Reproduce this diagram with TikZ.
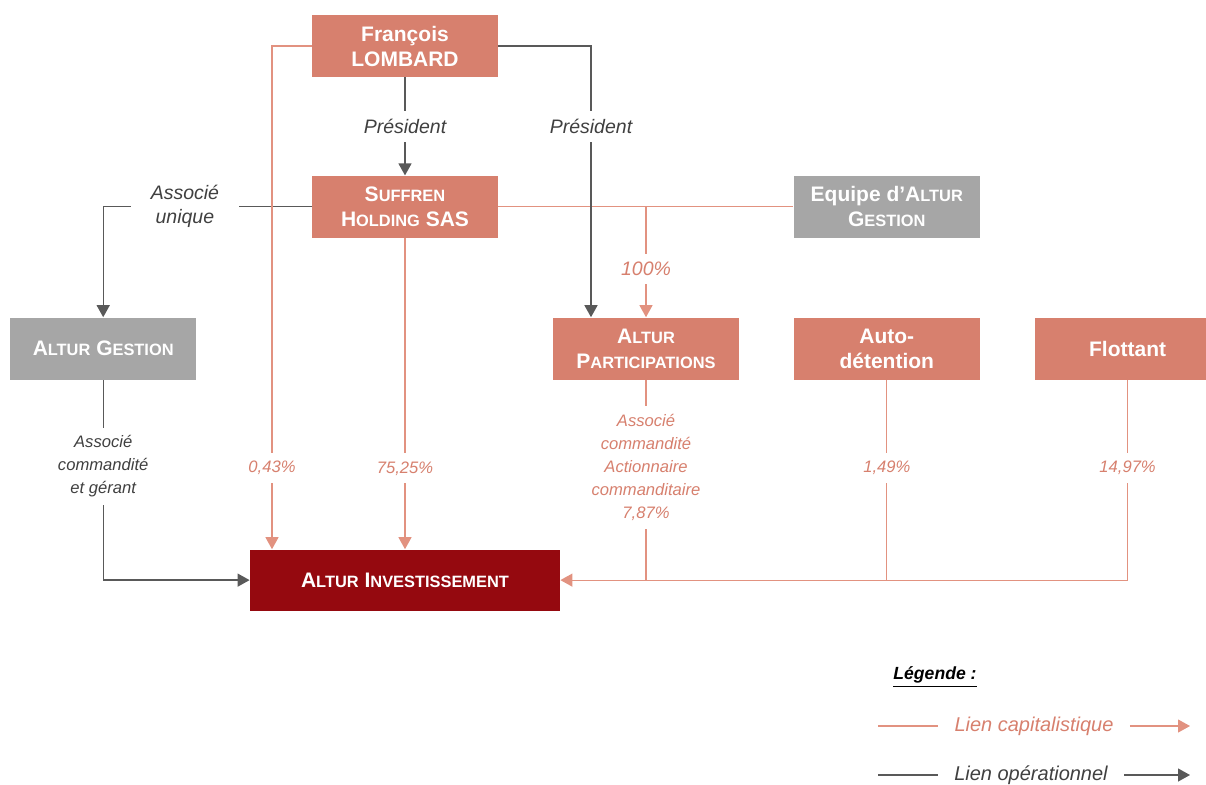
\documentclass[tikz,border=0pt]{standalone}
\usepackage{fontspec}
\setmainfont{Liberation Sans}
\usepackage{xcolor}
\usetikzlibrary{positioning,arrows.meta,calc}

\definecolor{saumon}{RGB}{215,128,110}
\definecolor{saumonline}{RGB}{226,146,128}
\definecolor{grisbox}{RGB}{166,166,166}
\definecolor{bordeaux}{RGB}{149,9,15}
\definecolor{grisline}{RGB}{89,89,89}
\definecolor{gristext}{RGB}{64,64,64}

% fake small caps: first letter full size, rest smaller
\newcommand{\fsc}[2]{#1{\fontsize{8.2pt}{10}\selectfont #2}}

\tikzset{
    >={Triangle[length=6pt,width=6.5pt]},
    entite/.style={
        rectangle,
        fill=saumon,
        text=white,
        font={\fontsize{10.5pt}{12.5}\selectfont\bfseries},
        minimum width=93pt,
        minimum height=31pt,
        inner sep=0pt,
        align=center
    },
    externe/.style={entite, fill=grisbox},
    cible/.style={entite, fill=bordeaux, minimum width=155pt, minimum height=30.5pt},
    caplink/.style={draw=saumonline, line width=0.55pt},
    oplink/.style={draw=grisline, line width=0.65pt},
    lbl/.style={
        fill=white,
        inner xsep=3pt,
        inner ysep=4pt,
        align=center,
        font={\fontsize{9.75pt}{12}\selectfont\itshape}
    },
    lowlbl/.style={lbl, font={\fontsize{8.3pt}{11.5}\selectfont\itshape}},
    oplbl/.style={lbl, text=gristext},
    oplow/.style={lowlbl, text=gristext},
    caplbl/.style={lbl, text=saumon},
    caplow/.style={lowlbl, text=saumon},
    legtext/.style={inner xsep=8pt, font={\fontsize{10pt}{12}\selectfont\itshape}},
}

\begin{document}
\begin{tikzpicture}[x=0.5pt,y=-0.5pt]
    \useasboundingbox (0,0) rectangle (1206,784);

    % entities
    \node[entite] (lombard) at (405,46) {François\\LOMBARD};
    \node[entite, below=49pt of lombard] (suffren) {\fsc{S}{UFFREN}\\\fsc{H}{OLDING} SAS};
    \node[externe, right=147.5pt of suffren] (equipe) {Equipe d’\fsc{A}{LTUR}\\\fsc{G}{ESTION}};
    \node[entite, below=39.5pt of equipe] (autodet) {Auto-\\détention};
    \node[entite, left=27pt of autodet] (partic) {\fsc{A}{LTUR}\\\fsc{P}{ARTICIPATIONS}};
    \node[entite, right=27pt of autodet] (flottant) {Flottant};
    \node[externe, left=178pt of partic] (gestion) {\fsc{A}{LTUR} \fsc{G}{ESTION}};
    \node[cible, below=155.5pt of suffren] (invest) {\fsc{A}{LTUR} \fsc{I}{NVESTISSEMENT}};

    % operational links
    \draw[oplink,->] (lombard) -- node[oplbl]{Président} (suffren);
    \draw[oplink,->] (suffren.west) -| node[oplbl,pos=0.304,inner xsep=10pt]{Associé\\unique} (gestion.north);
    \draw[oplink,->] (gestion.south) |- node[oplow,pos=0.216]{Associé\\commandité\\et gérant} (invest.west);

    % capital links
    \draw[caplink,->] (lombard.west) -| node[caplow,pos=0.919]{0,43\%} ([xshift=-66.5pt]invest.north);
    \draw[caplink,->] (suffren) -- node[caplow,pos=0.74]{75,25\%} (invest);
    \draw[caplink] (suffren.east) -- (equipe.west);
    \coordinate (split) at (partic.north |- suffren.east);
    \draw[caplink,->] (split) -- node[caplbl,pos=0.56]{100\%} (partic.north);
    \draw[caplink] (partic.south) -- node[caplow,pos=0.438]{Associé\\commandité\\Actionnaire\\commanditaire\\7,87\%} (partic.south |- invest.east);
    \draw[caplink] (autodet.south) -- node[caplow,pos=0.438]{1,49\%} (autodet.south |- invest.east);
    \draw[caplink,->] (flottant.south) |- node[caplow,pos=0.219]{14,97\%} (invest.east);

    \draw[oplink,->] (lombard.east) -| node[oplbl,pos=0.648]{Président} ([xshift=-27.5pt]partic.north);

    % legend
    \node[font={\fontsize{8.8pt}{10}\selectfont\bfseries\itshape}] (legende) at (935,677) {\underline{Légende :}};
    \node[legtext, text=saumon] (capleg) at (1034,726) {Lien capitalistique};
    \node[legtext, text=gristext] (opleg) at (1031,775) {Lien opérationnel};
    \coordinate (capa) at (878,726);
    \coordinate (capb) at (1190,726);
    \coordinate (opa) at (878,775);
    \coordinate (opb) at (1190,775);
    \draw[caplink] (capa) -- (capleg.west);
    \draw[caplink,->] (capleg.east) -- (capb);
    \draw[oplink] (opa) -- (opleg.west);
    \draw[oplink,->] (opleg.east) -- (opb);
\end{tikzpicture}
\end{document}
